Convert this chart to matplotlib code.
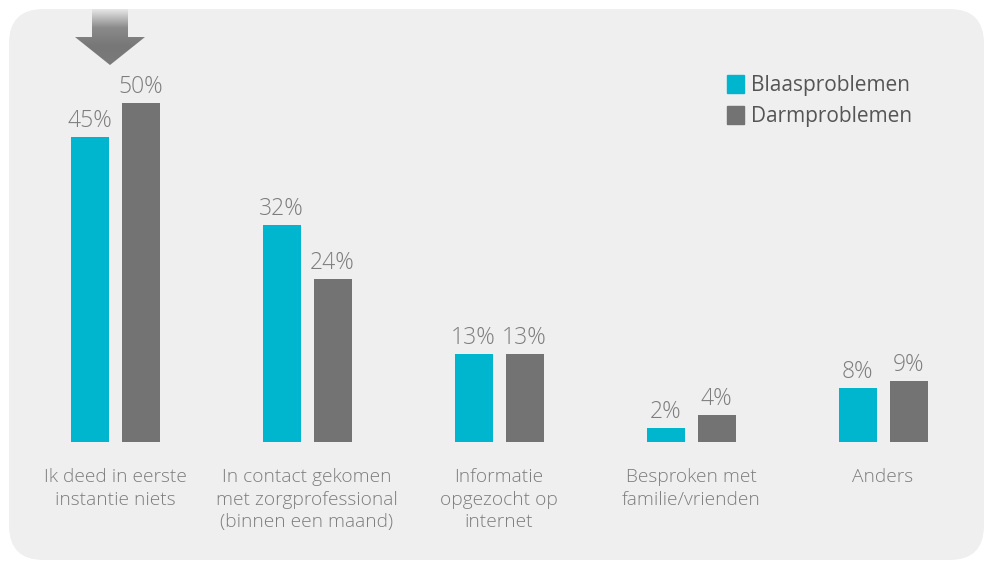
import numpy as np
import matplotlib
matplotlib.use("Agg")
import matplotlib.pyplot as plt
from matplotlib.patches import FancyBboxPatch, Polygon, Patch

# data
categories = ["Ik deed in eerste\ninstantie niets",
              "In contact gekomen\nmet zorgprofessional\n(binnen een maand)",
              "Informatie\nopgezocht op\ninternet",
              "Besproken met\nfamilie/vrienden",
              "Anders"]
blaas = [45, 32, 13, 2, 8]
darm = [50, 24, 13, 4, 9]
series_names = ["Blaasproblemen", "Darmproblemen"]

cyan = "#00b6cf"
grey = "#737373"
text_grey = "#7d7d7d"

plt.rcParams["font.family"] = ["Open Sans", "DejaVu Sans"]

fig = plt.figure(figsize=(9.85, 5.62), dpi=100)
fig.patch.set_facecolor("white")
ax = fig.add_axes([0, 0, 1, 1])
ax.set_xlim(-115 / 192, (985 - 115) / 192)
ax.set_ylim(-(562 - 442) / 6.78, 442 / 6.78)
ax.axis("off")

# rounded grey panel
panel = FancyBboxPatch((9 / 985, 2 / 562), 975 / 985, 551 / 562,
                       boxstyle="round,pad=0,rounding_size=0.035",
                       transform=ax.transAxes, facecolor="#efefef",
                       edgecolor="none", zorder=0, mutation_aspect=985 / 562)
ax.add_patch(panel)

x = np.arange(len(categories))
w = 38 / 192
off = 25.5 / 192
b1 = ax.bar(x - off, blaas, w, color=cyan, zorder=2)
b2 = ax.bar(x + off, darm, w, color=grey, zorder=2)

for bars, vals in ((b1, blaas), (b2, darm)):
    for r, v in zip(bars, vals):
        ax.annotate(f"{v}%", (r.get_x() + r.get_width() / 2, v),
                    xytext=(0, 10), textcoords="offset pixels",
                    ha="center", va="baseline", fontsize=16.5,
                    fontweight="light", color=text_grey)

for xi, lab in zip(x, categories):
    ax.text(xi, -3.9, lab, ha="center", va="top", fontsize=13.8,
            fontweight="light", color=text_grey, linespacing=1.3)

# arrow over first group
ax0 = -5 / 192
sw, hw = 18 / 192, 35 / 192
y_top, y_neck, y_tip = 65.19 - 9 / 6.78, 65.19 - 37 / 6.78, 65.19 - 65 / 6.78
arrow = Polygon([(ax0 - sw, y_top), (ax0 + sw, y_top), (ax0 + sw, y_neck),
                 (ax0 + hw, y_neck), (ax0, y_tip), (ax0 - hw, y_neck),
                 (ax0 - sw, y_neck)], closed=True, facecolor="none",
                edgecolor="none")
ax.add_patch(arrow)
grad = np.linspace(0, 1, 100).reshape(-1, 1)
im = ax.imshow(grad, cmap=matplotlib.colors.LinearSegmentedColormap.from_list(
    "g", ["#e6e6e6", "#8a8a8a", "#777777", "#7a7a7a"]),
    extent=(ax0 - hw, ax0 + hw, y_tip, y_top), origin="upper",
    aspect="auto", zorder=3)
im.set_clip_path(arrow)

handles = [Patch(color=cyan), Patch(color=grey)]
leg = ax.legend(handles, series_names, loc="upper left",
                bbox_to_anchor=(708 / 985, 1 - 56 / 562), frameon=False,
                handlelength=0.85, handleheight=0.95, handletextpad=0.3,
                labelspacing=0.5, fontsize=15, labelcolor="#555555")

fig.savefig("out.png", dpi=100, facecolor=fig.get_facecolor())
